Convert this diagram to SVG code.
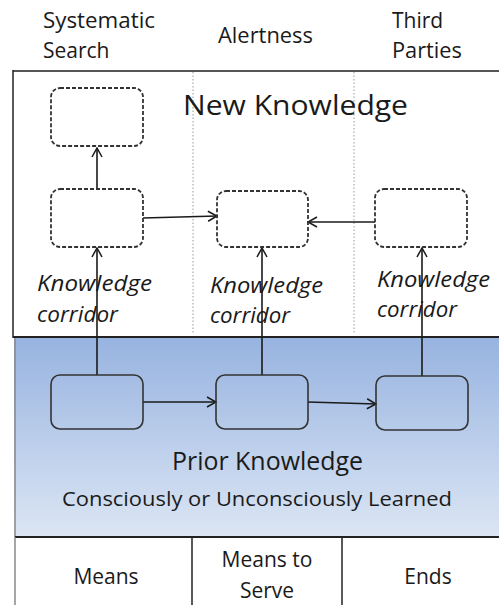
<svg xmlns="http://www.w3.org/2000/svg" width="499" height="605" viewBox="0 0 499 605">
<style>
.t{font-family:"Open Sans","Liberation Sans",sans-serif;fill:#1a1a1a}
.i{font-family:"Open Sans","Liberation Sans",sans-serif;font-style:italic;fill:#1a1a1a;font-size:22px}
.dash{fill:none;stroke:#333;stroke-width:1.8;stroke-dasharray:4 2}
.solid{fill:none;stroke:#333;stroke-width:1.6}
.arr{fill:none;stroke:#1a1a1a;stroke-width:1.6;marker-end:url(#ah)}
.dot{stroke:#999;stroke-width:1;stroke-dasharray:1.5 2}
</style>
<defs>
<linearGradient id="bg" x1="0" y1="0" x2="0" y2="1">
<stop offset="0" stop-color="#97b3e0"/>
<stop offset="1" stop-color="#dce6f4"/>
</linearGradient>
<marker id="ah" viewBox="0 0 12 12" refX="11" refY="6" markerWidth="12" markerHeight="12" markerUnits="userSpaceOnUse" orient="auto">
<polyline points="2,1 11,6 2,11" fill="none" stroke="#1a1a1a" stroke-width="1.5"/>
</marker>
</defs>
<rect width="499" height="605" fill="#fff"/>

<g id="headers">
<text class="t" font-size="21" x="43" y="28" textLength="112" lengthAdjust="spacingAndGlyphs">Systematic</text>
<text class="t" font-size="21" x="43" y="58">Search</text>
<text class="t" font-size="21" x="218" y="43" textLength="95" lengthAdjust="spacingAndGlyphs">Alertness</text>
<text class="t" font-size="21" x="392" y="28">Third</text>
<text class="t" font-size="21" x="392" y="58" textLength="70" lengthAdjust="spacingAndGlyphs">Parties</text>
</g>

<g id="prior-knowledge-section">
<rect x="14" y="337" width="490" height="200" fill="url(#bg)"/>
<line x1="15" y1="337" x2="15" y2="537" stroke="#888" stroke-width="1.5"/>
<text class="t" font-size="26" x="172" y="470" textLength="191" lengthAdjust="spacingAndGlyphs">Prior Knowledge</text>
<text class="t" font-size="20" x="62" y="506" textLength="390" lengthAdjust="spacingAndGlyphs">Consciously or Unconsciously  Learned</text>
</g>

<g id="new-knowledge-section">
<line x1="13" y1="71" x2="499" y2="71" stroke="#555" stroke-width="2"/>
<line x1="13" y1="70" x2="13" y2="338" stroke="#222" stroke-width="1.5"/>
<line x1="13" y1="337" x2="499" y2="337" stroke="#222" stroke-width="2"/>
<line class="dot" x1="193" y1="72" x2="193" y2="334"/>
<line class="dot" x1="354" y1="72" x2="354" y2="334"/>
<text class="t" font-size="28" x="183" y="115" textLength="225" lengthAdjust="spacingAndGlyphs">New Knowledge</text>
</g>

<g id="bottom-table">
<line x1="15" y1="537" x2="499" y2="537" stroke="#222" stroke-width="2"/>
<line x1="15" y1="537" x2="15" y2="605" stroke="#888" stroke-width="1.5"/>
<line x1="192" y1="537" x2="192" y2="605" stroke="#222" stroke-width="1.5"/>
<line x1="342" y1="537" x2="342" y2="605" stroke="#222" stroke-width="1.5"/>
<text class="t" font-size="21" x="106" y="584" text-anchor="middle">Means</text>
<text class="t" font-size="21" x="267" y="567" text-anchor="middle">Means to</text>
<text class="t" font-size="21" x="267" y="598" text-anchor="middle">Serve</text>
<text class="t" font-size="21" x="428" y="584" text-anchor="middle">Ends</text>
</g>

<g id="connectors">
<line class="arr" x1="97" y1="189" x2="97" y2="148"/>
<line class="arr" x1="143" y1="218" x2="217" y2="216"/>
<line class="arr" x1="375" y1="222" x2="308" y2="222"/>
<line class="arr" x1="97" y1="375" x2="97" y2="248"/>
<line class="arr" x1="262" y1="375" x2="262" y2="248"/>
<line class="arr" x1="422" y1="376" x2="422" y2="248"/>
<line class="arr" x1="143" y1="402" x2="216" y2="402"/>
<line class="arr" x1="308" y1="402" x2="376" y2="404"/>
</g>

<g id="nk-top"><rect class="dash" x="51" y="88" width="92" height="58" rx="9"/></g>
<g id="nk-left"><rect class="dash" x="51" y="189" width="92" height="58" rx="9"/></g>
<g id="nk-center"><rect class="dash" x="217" y="191" width="91" height="56" rx="9"/></g>
<g id="nk-right"><rect class="dash" x="375" y="189" width="92" height="58" rx="9"/></g>

<g id="pk-left"><rect class="solid" x="51" y="375" width="92" height="54" rx="9"/></g>
<g id="pk-center"><rect class="solid" x="216" y="375" width="92" height="54" rx="9"/></g>
<g id="pk-right"><rect class="solid" x="376" y="376" width="92" height="54" rx="9"/></g>

<g id="corridor-labels">
<text class="i" x="37" y="291" textLength="115" lengthAdjust="spacingAndGlyphs">Knowledge</text>
<text class="i" x="37" y="322" textLength="81" lengthAdjust="spacingAndGlyphs">corridor</text>
<text class="i" x="210" y="293" textLength="113" lengthAdjust="spacingAndGlyphs">Knowledge</text>
<text class="i" x="210" y="323" textLength="80" lengthAdjust="spacingAndGlyphs">corridor</text>
<text class="i" x="377" y="287" textLength="113" lengthAdjust="spacingAndGlyphs">Knowledge</text>
<text class="i" x="377" y="317" textLength="80" lengthAdjust="spacingAndGlyphs">corridor</text>
</g>
</svg>
